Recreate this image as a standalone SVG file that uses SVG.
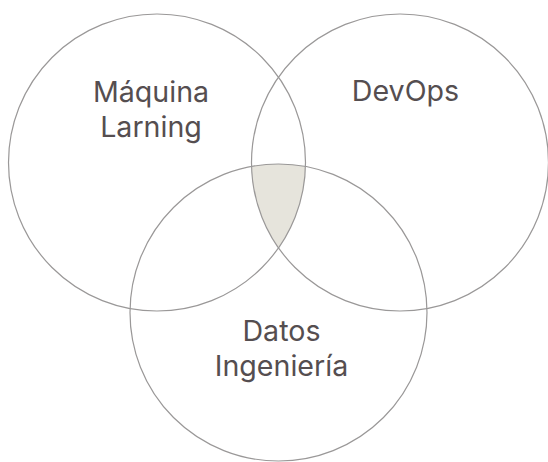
<svg xmlns="http://www.w3.org/2000/svg" width="548" height="462" viewBox="0 0 548 462">
<style>
.c{fill:none;stroke:#9a9898;stroke-width:1.2}
.t{font-family:Inter,"Liberation Sans",sans-serif;font-size:28.6px;fill:#554e50;text-anchor:middle}
</style>
<rect width="548" height="462" fill="#ffffff"/>
<g id="intersection">
<path d="M251.55 166.47 A148.5 148.5 0 0 1 305.45 166.47 A148.5 148.5 0 0 1 278.5 247.88 A148.5 148.5 0 0 1 251.55 166.47 Z" fill="#e6e4dc"/>
</g>
<g id="ml">
<circle class="c" cx="157" cy="162.5" r="148.5"/>
<text class="t" x="151" y="102">Máquina</text>
<text class="t" x="151" y="137">Larning</text>
</g>
<g id="devops">
<circle class="c" cx="400" cy="162.5" r="148.5"/>
<text class="t" x="405.5" y="101">DevOps</text>
</g>
<g id="datos">
<circle class="c" cx="278.5" cy="312.5" r="148.5"/>
<text class="t" x="281.5" y="341">Datos</text>
<text class="t" x="281.5" y="376">Ingeniería</text>
</g>
</svg>
